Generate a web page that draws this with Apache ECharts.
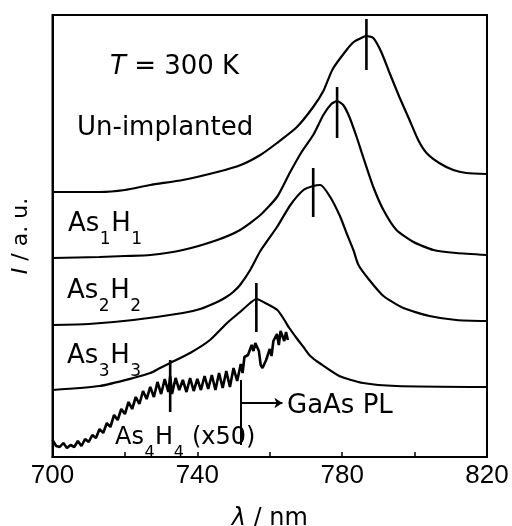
<!DOCTYPE html>
<html><head><meta charset="utf-8">
<script src="https://cdn.jsdelivr.net/npm/echarts@6/dist/echarts.min.js"></script>
<style>html,body{margin:0;padding:0;background:#fff}#c{width:512px;height:526px}</style>
</head><body><div id="c"></div>
<script>
// x tick labels shown
const xTickLabels = [700, 740, 780, 820];

// Un-implanted
const unX = [700,713,720,727,736,745.5,752,757.4,762,767.5,772,774.8,777.4,781.2,783.2,785.8,786.7,788.6,790.8,793.1,795.8,798.6,801,803.3,806.8,810.7,814.3,820];
const unY = [265,265,267,272,277,285,292,302,314,330,350,366,388,407,415,420,421,419,405,384,360,337,317,304,294,287,284,283];

// As1H1
const as1X = [700,713,720,727,736,745.5,751.8,757.4,762,765.5,768.8,772,774.8,777,778.6,780.3,782,784,785.8,788.6,791.4,795,799.7,805.2,811.5,820];
const as1Y = [199,200,201,202,207,217,227,242,260,284,305,322,342,353,356,352,340,320,300,270,247,227,215,207,204,202];

// As2H2
const as2X = [700,710,722.3,736,740.8,745.5,748,749.9,751.8,754.6,757.4,762,765.7,769.3,772,774,776.7,779.5,781.2,783.1,784.5,787.5,791.4,796.9,804.1,811.5,820];
const as2Y = [132,133,137,144,148,155,160,165,172,187,206,230,252,267,271,272,260,240,224,207,192,177,161,149,141,137,136];

// As3H3
const as3X = [700,713,722.3,727,729.7,732.5,738,743.5,748.2,751.8,754.6,756.3,759.3,762.1,763.7,765.4,767.6,769.3,771.2,773.7,779.2,785.8,795,820];
const as3Y = [67,71,79,84,89,94,104,117,134,145,154,158,153,147,139,129,118,110,101,94,81,74,71,70];

// As4H4 (x50)
const as4X = [700,701,702,703,704,705,706,707,708,709,710,711,712,713,714,715,716,717,718,719,720,721,722,723,724,725,726,727,728,729,730,731,732,732.5,733,734,735,736,737,738,739,740,741,742,743,744,745,746,747,748,749,750,751,752,752.5,753,754,755,755.5,756,757,757.5,758,759,760,760.5,761,762,762.5,763,764,764.5,765];
const as4Y = [17,11,10,14,9,12,10,16,11,18,15,22,19,28,24,34,30,42,37,48,43,55,48,60,53,66,58,70,60,75,63,78,65,81,63,79,67,77,65,79,66,78,67,81,68,82,67,84,69,86,70,89,76,93,84,100,102,112,106,114,106,92,89,97,108,101,116,123,112,126,116,125,117];

// peak markers
const peakX = [786.7, 778.6, 772.0, 756.3, 732.5];
const peakLow = [387, 319, 240, 125, 45];
const peakHigh = [438, 370, 289, 174, 97];

// GaAs PL arrow
const gaasX = 752.1, gaasArrowEnd = 763.5, gaasArrowY = 54, gaasLineLow = 12, gaasLineHigh = 77;

const zip = (a, b) => a.map((v, i) => [v, b[i]]);
const curveStyle = {type: 'line', showSymbol: false, symbol: 'none', silent: true, animation: false,
  smooth: 0.2, lineStyle: {color: '#000', width: 2.2}};

const series = [
  Object.assign({name: 'Un-implanted', data: zip(unX, unY)}, curveStyle),
  Object.assign({name: 'As1H1', data: zip(as1X, as1Y)}, curveStyle),
  Object.assign({name: 'As2H2', data: zip(as2X, as2Y)}, curveStyle),
  Object.assign({name: 'As3H3', data: zip(as3X, as3Y)}, curveStyle),
  Object.assign({name: 'As4H4 (x50)', data: zip(as4X, as4Y)}, curveStyle, {smooth: false, lineStyle: {color: '#000', width: 2.6}})
];
peakX.forEach((x, i) => {
  series.push({type: 'line', showSymbol: false, symbol: 'none', silent: true, animation: false,
    data: [[x, peakLow[i]], [x, peakHigh[i]]], lineStyle: {color: '#000', width: 2.6}});
});
series.push({type: 'lines', coordinateSystem: 'cartesian2d', silent: true, animation: false,
  symbol: ['none', 'none'], lineStyle: {color: '#000', width: 2, opacity: 1},
  data: [{coords: [[gaasX, gaasLineLow], [gaasX, gaasLineHigh]]}]});
series.push({type: 'lines', coordinateSystem: 'cartesian2d', silent: true, animation: false,
  symbol: ['none', 'arrow'], symbolSize: 8, lineStyle: {color: '#000', width: 1.8, opacity: 1},
  data: [{coords: [[gaasX, gaasArrowY], [gaasArrowEnd, gaasArrowY]]}]});

const DJ = '"DejaVu Sans"';
const ctx = document.createElement('canvas').getContext('2d');
function measure(t, size) { ctx.font = size + 'px ' + DJ; return ctx.measureText(t).width; }
// parts: [text, isSub]
function subLabel(parts, left, baseline, mainSize, subSize) {
  const els = [];
  let x = left;
  parts.forEach(p => {
    const sz = p[1] ? subSize : mainSize;
    const by = p[1] ? baseline + 12 : baseline;
    els.push({type: 'text', x: x, y: by - 0.346 * sz, silent: true,
      style: {text: p[0], font: sz + 'px ' + DJ, fill: '#000', align: 'left', verticalAlign: 'middle'}});
    x += measure(p[0], sz) + 0.5;
  });
  return els;
}

const graphics = [
  {type: 'text', x: 110, y: 67, silent: true,
    style: {text: '{i|T} = 300 K', font: '26px ' + DJ, fill: '#000', align: 'left', verticalAlign: 'middle',
      rich: {i: {fontStyle: 'italic', fontFamily: DJ, fontSize: 26, fill: '#000'}}}},
  {type: 'text', x: 77, y: 128, silent: true,
    style: {text: 'Un-implanted', font: '26px ' + DJ, fill: '#000', align: 'left', verticalAlign: 'middle'}},
  {type: 'text', x: 287, y: 406, silent: true,
    style: {text: 'GaAs PL', font: '26px ' + DJ, fill: '#000', align: 'left', verticalAlign: 'middle'}}
].concat(
  subLabel([['As',0],['1',1],['H',0],['1',1]], 68, 233, 26, 17),
  subLabel([['As',0],['2',1],['H',0],['2',1]], 67, 300, 26, 17),
  subLabel([['As',0],['3',1],['H',0],['3',1]], 67, 365, 26, 17),
  subLabel([['As',0],['4',1],['H',0],['4',1],[' (x50)',0]], 115, 446, 24, 16)
);

const option = {
  animation: false,
  backgroundColor: '#fff',
  grid: {left: 52.5, right: 25, top: 15, bottom: 69, show: true, borderColor: '#000', borderWidth: 2,
    outerBoundsMode: 'none', containLabel: false},
  xAxis: {
    type: 'value', min: 700, max: 820, interval: 20,
    axisLine: {show: true, lineStyle: {color: '#000', width: 2}},
    axisTick: {show: true, inside: true, length: 5, lineStyle: {color: '#000', width: 1.5}},
    splitLine: {show: false},
    axisLabel: {margin: 6, color: '#000', fontFamily: 'Liberation Sans', fontSize: 26,
      formatter: v => xTickLabels.indexOf(v) >= 0 ? String(v) : ''},
    name: '{i|λ} / nm', nameLocation: 'middle', nameGap: 50,
    nameTextStyle: {color: '#000', fontFamily: DJ, fontSize: 24,
      rich: {i: {fontStyle: 'italic', fontFamily: DJ, fontSize: 24, color: '#000'}}}
  },
  yAxis: {
    type: 'value', min: 0, max: 442,
    axisLine: {show: true, lineStyle: {color: '#000', width: 2}},
    axisTick: {show: false}, axisLabel: {show: false}, splitLine: {show: false},
    name: '{i|I} / a. u.', nameLocation: 'middle', nameGap: 20,
    nameTextStyle: {color: '#000', fontFamily: DJ, fontSize: 22,
      rich: {i: {fontStyle: 'italic', fontFamily: DJ, fontSize: 22, color: '#000'}}}
  },
  series: series,
  graphic: graphics
};
const chart = echarts.init(document.getElementById('c'), null, {renderer: 'canvas'});
chart.setOption(option);
</script>
</body></html>
